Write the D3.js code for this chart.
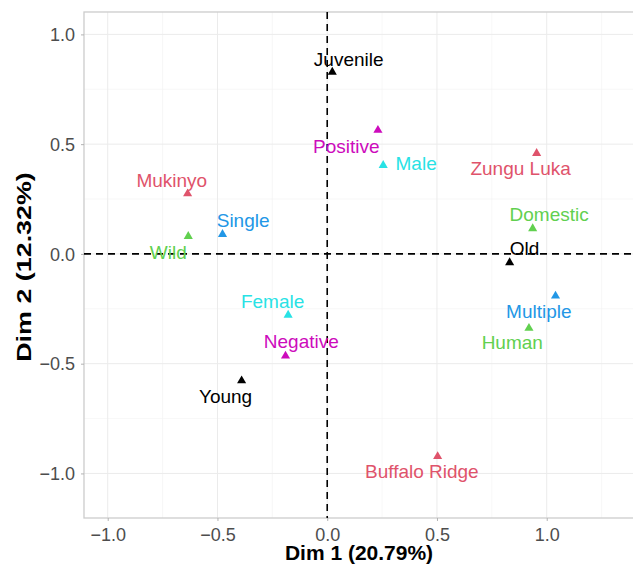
<!DOCTYPE html>
<html>
<head>
<meta charset="utf-8">
<style>
  body { margin: 0; background: #fff; }
  svg text { font-family: "Liberation Sans", Arial, Helvetica, sans-serif; }
  .tick text { fill: #4D4D4D; font-size: 18px; }
  .tick line { stroke: #B3B3B3; }
  .grid-major line { stroke: #EBEBEB; stroke-width: 1; }
  .grid-minor line { stroke: #F2F2F2; stroke-width: 0.6; }
  .axis-title { font-weight: bold; font-size: 21px; fill: #000; text-anchor: middle; }
  .lbl { font-size: 19px; text-anchor: middle; }
</style>
</head>
<body>
<svg id="chart" width="633" height="571"></svg>
<script src="https://cdn.jsdelivr.net/npm/d3@7"></script>
<script>
// MCA variable categories
var categories = ["Juvenile", "Positive", "Male", "Zungu Luka", "Mukinyo", "Single", "Wild",
                  "Domestic", "Old", "Female", "Negative", "Young", "Multiple", "Human", "Buffalo Ridge"];
var groups = ["age", "status", "sex", "site", "site", "type", "host",
              "host", "age", "sex", "status", "age", "type", "host", "site"];
var dim1 = [0.023, 0.231, 0.255, 0.954, -0.636, -0.477, -0.633,
            0.936, 0.831, -0.178, -0.190, -0.390, 1.040, 0.919, 0.503];
var dim2 = [0.833, 0.568, 0.408, 0.463, 0.279, 0.094, 0.085,
            0.120, -0.035, -0.274, -0.460, -0.573, -0.187, -0.334, -0.918];
// repelled label positions (data units)
var labelX = [0.098, 0.087, 0.405, 0.881, -0.708, -0.383, -0.724,
              1.011, 0.899, -0.249, -0.118, -0.463, 0.964, 0.843, 0.431];
var labelY = [0.887, 0.493, 0.413, 0.390, 0.337, 0.152, 0.010,
              0.182, 0.026, -0.217, -0.399, -0.649, -0.259, -0.404, -0.991];
var xTicks = [-1.0, -0.5, 0.0, 0.5, 1.0];
var yTicks = [-1.0, -0.5, 0.0, 0.5, 1.0];
var groupNames = ["age", "site", "host", "type", "sex", "status"];
var groupColors = ["#000000", "#DF536B", "#61D04F", "#2297E6", "#28E2E5", "#CD0BBC"];

var svg = d3.select("#chart");
var mLeft = 84, mRight = 633, mTop = 12, mBottom = 518;

var x = d3.scaleLinear().domain([-1.108, 1.393]).range([mLeft, mRight]);
var y = d3.scaleLinear().domain([-1.203, 1.102]).range([mBottom, mTop]);
var color = d3.scaleOrdinal(groupNames, groupColors);

// grid
var minorX = [-0.75, -0.25, 0.25, 0.75, 1.25];
var minorY = [-0.75, -0.25, 0.25, 0.75];
var minorG = svg.append("g").attr("class", "grid-minor");
minorG.selectAll(".vx").data(minorX).enter().append("line")
  .attr("x1", x).attr("x2", x).attr("y1", mTop).attr("y2", mBottom);
minorG.selectAll(".hy").data(minorY).enter().append("line")
  .attr("x1", mLeft).attr("x2", mRight).attr("y1", y).attr("y2", y);
var majorG = svg.append("g").attr("class", "grid-major");
majorG.selectAll(".vx").data(xTicks).enter().append("line")
  .attr("x1", x).attr("x2", x).attr("y1", mTop).attr("y2", mBottom);
majorG.selectAll(".hy").data(yTicks).enter().append("line")
  .attr("x1", mLeft).attr("x2", mRight).attr("y1", y).attr("y2", y);

// panel border
svg.append("rect").attr("x", mLeft).attr("y", mTop)
  .attr("width", mRight - mLeft + 2).attr("height", mBottom - mTop)
  .attr("fill", "none").attr("stroke", "#CCCCCC").attr("stroke-width", 1.3);

// axes
var fmt = function(d) { return d3.format(".1f")(d).replace("-", "\u2212"); };
var xAxis = svg.append("g").attr("transform", "translate(0," + mBottom + ")")
  .call(d3.axisBottom(x).tickValues(xTicks).tickFormat(fmt).tickSize(3).tickPadding(5));
var yAxis = svg.append("g").attr("transform", "translate(" + mLeft + ",0)")
  .call(d3.axisLeft(y).tickValues(yTicks).tickFormat(fmt).tickSize(3).tickPadding(6));
xAxis.select(".domain").remove();
yAxis.select(".domain").remove();
xAxis.selectAll(".tick text").attr("dy", "0.82em");
yAxis.selectAll(".tick text").attr("dy", "0.35em");

// reference lines
svg.append("line").attr("x1", mLeft).attr("x2", mRight).attr("y1", y(0)).attr("y2", y(0))
  .attr("stroke", "#000").attr("stroke-width", 1.6).attr("stroke-dasharray", "7,5");
svg.append("line").attr("x1", x(0)).attr("x2", x(0)).attr("y1", mTop).attr("y2", mBottom)
  .attr("stroke", "#000").attr("stroke-width", 1.6).attr("stroke-dasharray", "7,5");

// points
var tri = d3.symbol().type(d3.symbolTriangle).size(36);
svg.append("g").selectAll("path").data(categories).enter().append("path")
  .attr("d", tri)
  .attr("transform", function(d, i) { return "translate(" + x(dim1[i]) + "," + (y(dim2[i]) + 1) + ")"; })
  .attr("fill", function(d, i) { return color(groups[i]); });

// labels
svg.append("g").selectAll("text").data(categories).enter().append("text")
  .attr("class", "lbl")
  .attr("x", function(d, i) { return x(labelX[i]); })
  .attr("y", function(d, i) { return y(labelY[i]); })
  .attr("dy", "0.36em")
  .attr("fill", function(d, i) { return color(groups[i]); })
  .text(function(d) { return d; });

// axis titles
svg.append("text").attr("class", "axis-title")
  .attr("x", 359).attr("y", 560)
  .text("Dim 1 (20.79%)");
svg.append("text").attr("class", "axis-title")
  .attr("transform", "translate(31,267) rotate(-90) scale(1.28,1)")
  .text("Dim 2 (12.32%)");
</script>
</body>
</html>
